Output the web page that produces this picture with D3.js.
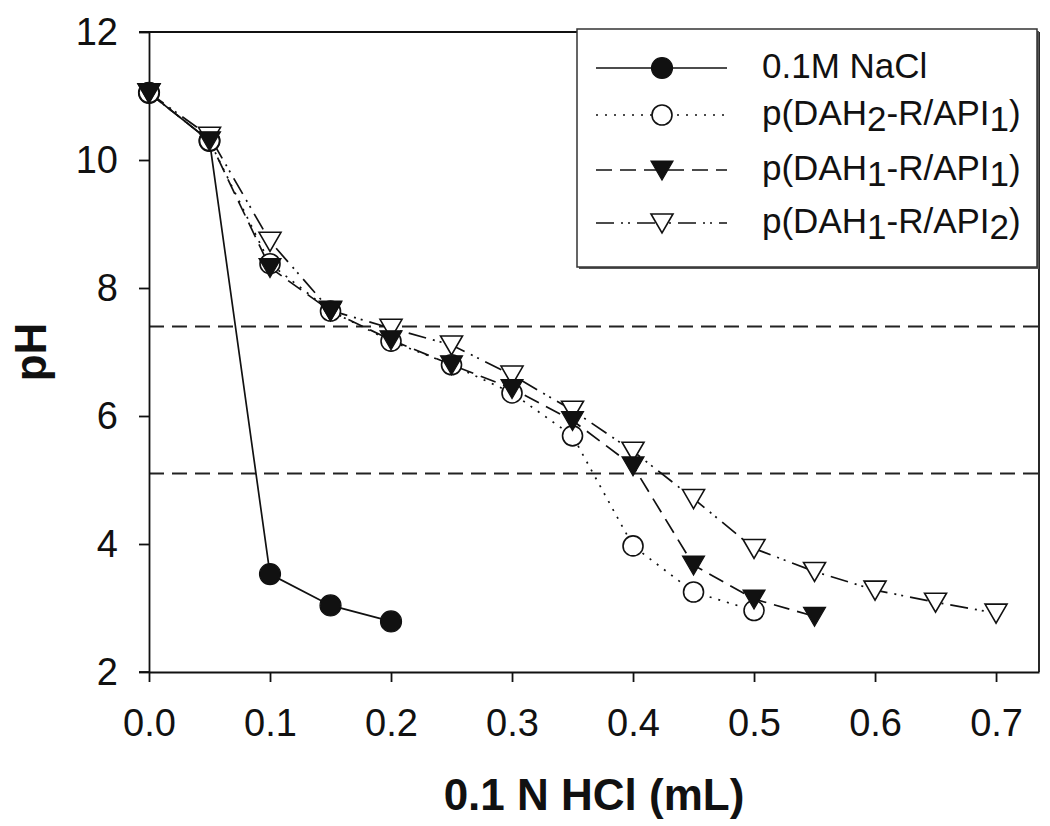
<!DOCTYPE html>
<html>
<head>
<meta charset="utf-8">
<script src="https://cdn.jsdelivr.net/npm/d3@7"></script>
<style>
  html, body { margin: 0; padding: 0; background: #fff; }
  svg { display: block; font-family: "Liberation Sans", Arial, sans-serif; }
</style>
</head>
<body>
<svg id="chart" width="1050" height="826"></svg>
<script>
// ---- data ----
const xNaCl = [0, 0.05, 0.1, 0.15, 0.2];
const yNaCl = [11.05, 10.3, 3.53, 3.04, 2.79];

const xDAH2API1 = [0, 0.05, 0.1, 0.15, 0.2, 0.25, 0.3, 0.35, 0.4, 0.45, 0.5];
const yDAH2API1 = [11.05, 10.3, 8.38, 7.64, 7.17, 6.8, 6.36, 5.69, 3.97, 3.25, 2.96];

const xDAH1API1 = [0, 0.05, 0.1, 0.15, 0.2, 0.25, 0.3, 0.35, 0.4, 0.45, 0.5, 0.55];
const yDAH1API1 = [11.05, 10.3, 8.32, 7.64, 7.19, 6.8, 6.43, 5.93, 5.22, 3.67, 3.14, 2.87];

const xDAH1API2 = [0, 0.05, 0.1, 0.15, 0.2, 0.25, 0.3, 0.35, 0.4, 0.45, 0.5, 0.55, 0.6, 0.65, 0.7];
const yDAH1API2 = [11.05, 10.37, 8.73, 7.65, 7.37, 7.11, 6.64, 6.09, 5.45, 4.71, 3.93, 3.57, 3.28, 3.09, 2.92];

const refLines = [7.4, 5.1];

const xTicks = [0, 0.1, 0.2, 0.3, 0.4, 0.5, 0.6, 0.7];
const yTicks = [2, 4, 6, 8, 10, 12];
const xTitle = "0.1 N HCl (mL)";
const yTitle = "pH";

// legend label parts: [text, isSubscript]
const legendLabels = [
  [["0.1M NaCl", false]],
  [["p(DAH", false], ["2", true], ["-R/API", false], ["1", true], [")", false]],
  [["p(DAH", false], ["1", true], ["-R/API", false], ["1", true], [")", false]],
  [["p(DAH", false], ["1", true], ["-R/API", false], ["2", true], [")", false]]
];

// ---- layout ----
const L = 149, R = 1039, T = 32, B = 672;
const ink = "#111";
const svg = d3.select("#chart");

const x = d3.scaleLinear().domain([0, 0.7355]).range([L, R]);
const y = d3.scaleLinear().domain([2, 12]).range([B, T]);

// series definitions (style)
const series = [
  { xs: xNaCl, ys: yNaCl, dash: null, marker: "filledCircle" },
  { xs: xDAH2API1, ys: yDAH2API1, dash: "2,7", marker: "openCircle" },
  { xs: xDAH1API1, ys: yDAH1API1, dash: "16,8", marker: "filledTri" },
  { xs: xDAH1API2, ys: yDAH1API2, dash: "18,7,2,5,2,7", marker: "openTri" }
];

// reference dashed lines
svg.selectAll("line.ref").data(refLines).enter().append("line")
  .attr("class", "ref")
  .attr("x1", L).attr("x2", R)
  .attr("y1", d => y(d)).attr("y2", d => y(d))
  .attr("stroke", "#222").attr("stroke-width", 2)
  .attr("stroke-dasharray", "15,8");

// axes
const xAxis = svg.append("g").attr("transform", `translate(0,${B})`)
  .call(d3.axisBottom(x).tickValues(xTicks).tickFormat(d3.format(".1f"))
    .tickSize(10).tickSizeOuter(0).tickPadding(27));
const yAxis = svg.append("g").attr("transform", `translate(${L},0)`)
  .call(d3.axisLeft(y).tickValues(yTicks).tickFormat(d3.format("d"))
    .tickSize(10).tickSizeOuter(0).tickPadding(21));
[xAxis, yAxis].forEach(g => {
  g.selectAll("path.domain").attr("stroke", ink).attr("stroke-width", 1.8);
  g.selectAll(".tick line").attr("stroke", ink).attr("stroke-width", 1.8);
  g.selectAll(".tick text").attr("fill", ink)
    .style("font-size", "38px").style("font-family", '"Liberation Sans", Arial, sans-serif');
});
// frame top/right
svg.append("line").attr("x1", L - 10).attr("x2", R).attr("y1", T).attr("y2", T)
  .attr("stroke", ink).attr("stroke-width", 1.8);
svg.append("line").attr("x1", R).attr("x2", R).attr("y1", T).attr("y2", B)
  .attr("stroke", ink).attr("stroke-width", 1.8);
svg.append("line").attr("x1", L - 10).attr("x2", L).attr("y1", B).attr("y2", B)
  .attr("stroke", ink).attr("stroke-width", 1.8);

// axis titles
svg.append("text").attr("x", (L + R) / 2).attr("y", 810)
  .attr("text-anchor", "middle").attr("font-weight", "bold")
  .attr("font-size", 44).attr("fill", ink).text(xTitle);
svg.append("text")
  .attr("transform", `translate(46,${(T + B) / 2}) rotate(-90)`)
  .attr("text-anchor", "middle").attr("font-weight", "bold")
  .attr("font-size", 44).attr("fill", ink).text(yTitle);

// markers
const triPath = "M-11,-9L11,-9L0,10Z";
function drawMarker(g, type, cx, cy) {
  if (type === "filledCircle") {
    g.append("circle").attr("cx", cx).attr("cy", cy).attr("r", 10.5)
      .attr("fill", ink).attr("stroke", ink).attr("stroke-width", 1.2);
  } else if (type === "openCircle") {
    g.append("circle").attr("cx", cx).attr("cy", cy).attr("r", 10)
      .attr("fill", "#fff").attr("stroke", ink).attr("stroke-width", 1.6);
  } else if (type === "filledTri") {
    g.append("path").attr("d", triPath).attr("transform", `translate(${cx},${cy})`)
      .attr("fill", ink).attr("stroke", ink).attr("stroke-width", 1.2);
  } else {
    g.append("path").attr("d", triPath).attr("transform", `translate(${cx},${cy})`)
      .attr("fill", "#fff").attr("stroke", ink).attr("stroke-width", 1.6);
  }
}

const line = d3.line().x(d => x(d[0])).y(d => y(d[1]));
// lines
series.forEach(s => {
  const pts = s.xs.map((v, i) => [v, s.ys[i]]);
  svg.append("path").datum(pts).attr("d", line)
    .attr("fill", "none").attr("stroke", ink).attr("stroke-width", 1.7)
    .attr("stroke-dasharray", s.dash);
});
// markers, drawn in the stacking order seen in the picture
[0, 1, 3, 2].forEach(k => {
  const s = series[k];
  const g = svg.append("g");
  s.xs.forEach((v, i) => drawMarker(g, s.marker, x(v), y(s.ys[i])));
});

// legend
const lg = svg.append("g");
lg.append("rect").attr("x", 579).attr("y", 31).attr("width", 460).attr("height", 238)
  .attr("fill", "#555");
lg.append("rect").attr("x", 577).attr("y", 29).attr("width", 460).attr("height", 238)
  .attr("fill", "#fff").attr("stroke", "#333").attr("stroke-width", 1.5);
const rowY = [68, 115, 170, 223];
series.forEach((s, i) => {
  const ly = rowY[i];
  lg.append("line").attr("x1", 596).attr("x2", 727).attr("y1", ly).attr("y2", ly)
    .attr("stroke", ink).attr("stroke-width", 1.7).attr("stroke-dasharray", s.dash);
  drawMarker(lg, s.marker, 662, ly);
  const t = lg.append("text").attr("x", 762).attr("y", ly + 10)
    .attr("font-size", 35).attr("fill", ink);
  legendLabels[i].forEach(([txt, sub]) => {
    t.append("tspan").attr("baseline-shift", sub ? "-6" : null).text(txt);
  });
});
</script>
</body>
</html>
